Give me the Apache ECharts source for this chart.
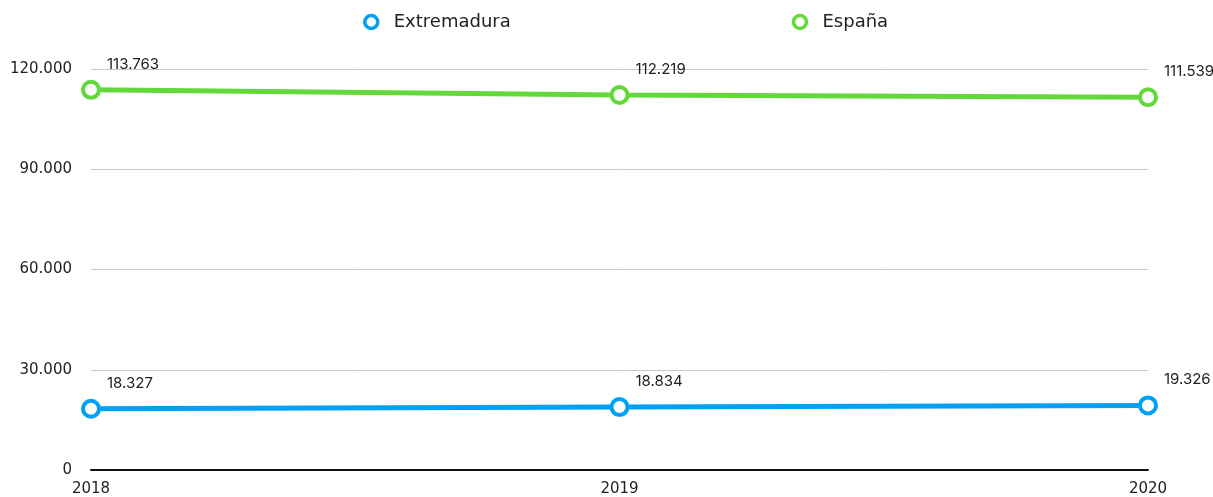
<!DOCTYPE html>
<html>
<head>
<meta charset="utf-8">
<script src="https://cdn.jsdelivr.net/npm/echarts@6/dist/echarts.min.js"></script>
<style>
  html, body { margin: 0; padding: 0; background: #fff; }
  #chart { width: 1213px; height: 497px; }
</style>
</head>
<body>
<div id="chart"></div>
<script>
var years = ['2018', '2019', '2020'];
var extremadura = [18327, 18834, 19326];
var espana = [113763, 112219, 111539];
var yTicks = [0, 30000, 60000, 90000, 120000];

var blue = '#00a0f5';
var green = '#62d83a';

function fmt(v) {
	return String(v).replace(/\B(?=(\d{3})+(?!\d))/g, '.');
}

var font = 'DejaVu Sans';
var labelFont = 'Inter';

function makeSeries(name, data, color) {
	return {
		name: name,
		type: 'line',
		data: data,
		symbol: 'circle',
		symbolSize: 16,
		showAllSymbol: true,
		lineStyle: { width: 5, color: color },
		itemStyle: { color: '#fff', borderColor: color, borderWidth: 4 },
		label: {
			show: true,
			position: 'top',
			align: 'left',
			offset: [16, -3],
			color: '#222',
			fontFamily: labelFont,
			fontSize: 15,
			formatter: function (p) { return fmt(p.value); }
		}
	};
}

var option = {
	animation: false,
	backgroundColor: '#fff',
	legend: {
		top: 8,
		left: 358,
		itemGap: 281,
		itemWidth: 13,
		itemHeight: 13,
		textStyle: { fontFamily: font, fontSize: 18, color: '#222', padding: [0, 0, 0, 11] },
		data: [
			{ name: 'Extremadura', icon: 'circle', itemStyle: { color: '#fff', borderColor: blue, borderWidth: 3.5 } },
			{ name: 'España', icon: 'circle', itemStyle: { color: '#fff', borderColor: green, borderWidth: 3.5 } }
		]
	},
	grid: { left: 91, right: 65, top: 69, bottom: 25, containLabel: false },
	xAxis: {
		type: 'category',
		data: years,
		boundaryGap: false,
		axisLine: { show: true, lineStyle: { color: '#111', width: 2 } },
		axisTick: { show: false },
		axisLabel: { fontFamily: font, fontSize: 15, color: '#222', margin: 12 }
	},
	yAxis: {
		type: 'value',
		min: yTicks[0],
		max: yTicks[yTicks.length - 1],
		interval: 30000,
		axisLine: { show: false },
		axisTick: { show: false },
		splitLine: { lineStyle: { color: '#c8c8c8', width: 1 } },
		axisLabel: {
			fontFamily: font, fontSize: 15, color: '#222', margin: 19,
			formatter: function (v) { return fmt(v); }
		}
	},
	series: [
		makeSeries('Extremadura', extremadura, blue),
		makeSeries('España', espana, green)
	]
};

var myChart = echarts.init(document.getElementById('chart'));
myChart.setOption(option);
</script>
</body>
</html>
